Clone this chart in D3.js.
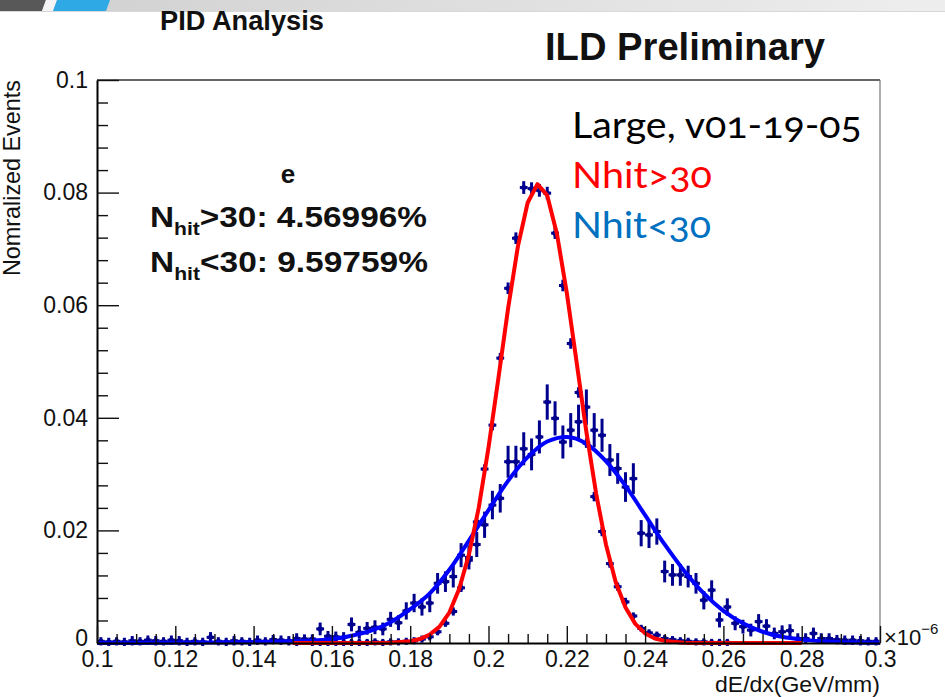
<!DOCTYPE html>
<html><head><meta charset="utf-8">
<script src="https://cdn.jsdelivr.net/npm/d3@7"></script>
<style>html,body{margin:0;padding:0;background:#fff;} svg{display:block;}</style>
</head><body>
<svg id="c" width="945" height="697"></svg>
<script>
// ---------------- data ----------------
const binLow = 0.1, binWidth = 0.002, nBins = 100;
// Nhit>30 histogram (normalised), bins 0.101 ... 0.299
const nhitHigh = [
 0,0,0,0,0,0,0,0,0,0,
 0,0,0,0,0,0,0,0,0,0,
 0,0,0,0,0,0.0001,0,0.0001,0.0001,0.0001,
 0.0001,0.0001,0.0001,0.0001,0.0001,0.0002,0.0001,0.0002,0.0002,0.0003,
 0.0004,0.0007,0.0011,0.0020,0.0035,0.0056,0.0098,0.0147,0.0215,0.0309,
 0.0387,0.0506,0.0630,0.0719,0.0809,0.0807,0.0804,0.0799,0.0728,0.0635,
 0.0532,0.0445,0.0355,0.0260,0.0198,0.0141,0.0100,0.0073,0.0048,0.0026,
 0.0018,0.0014,0.0008,0.0006,0.0004,0.0003,0.0002,0.0002,0.0001,0.0001,
 0.0001,0,0,0,0,0,0,0,0,0,
 0,0,0,0,0,0,0,0,0,0];
const nhitHighErr = [
 0,0,0,0,0,0,0,0,0,0,
 0,0,0,0,0,0,0,0,0,0,
 0,0,0,0,0,0.0001,0,0.0001,0.0001,0.0001,
 0.0001,0.0001,0.0001,0.0001,0.0001,0.0001,0.0001,0.0001,0.0001,0.0001,
 0.0001,0.0001,0.0001,0.0001,0.0001,0.0002,0.0002,0.0002,0.0003,0.0003,
 0.0004,0.0004,0.0005,0.0005,0.0006,0.0006,0.0006,0.0006,0.0005,0.0005,
 0.0004,0.0004,0.0003,0.0003,0.0003,0.0002,0.0002,0.0002,0.0001,0.0001,
 0.0001,0.0001,0.0001,0.0001,0.0001,0.0001,0.0001,0.0001,0.0001,0.0001,
 0.0001,0,0,0,0,0,0,0,0,0,
 0,0,0,0,0,0,0,0,0,0];
// Nhit<30 histogram (normalised)
const nhitLow = [
 0.0003,0.0002,0.0003,0.0002,0.0004,0.0003,0.0005,0.0004,0.0003,0.0005,
 0.0004,0.0002,0.0003,0.0002,0.0010,0.0003,0.0002,0.0004,0.0003,0.0002,
 0.0005,0.0003,0.0006,0.0005,0.0004,0.0008,0.0007,0.0007,0.0025,0.0012,
 0.0011,0.0010,0.0033,0.0019,0.0026,0.0028,0.0025,0.0042,0.0036,0.0057,
 0.0071,0.0064,0.0071,0.0106,0.0109,0.0118,0.0156,0.0152,0.0175,0.0210,
 0.0245,0.0257,0.0322,0.0322,0.0345,0.0335,0.0366,0.0428,0.0399,0.0357,
 0.0378,0.0393,0.0419,0.0378,0.0369,0.0325,0.0310,0.0277,0.0292,0.0195,
 0.0192,0.0198,0.0127,0.0121,0.0121,0.0118,0.0106,0.0076,0.0094,0.0041,
 0.0064,0.0035,0.0029,0.0023,0.0038,0.0030,0.0017,0.0020,0.0022,0.0008,
 0.0008,0.0017,0.0008,0.0008,0.0006,0.0005,0.0005,0.0004,0.0003,0.0003];
const nhitLowErr = [
 0.0002,0.0002,0.0002,0.0002,0.0003,0.0002,0.0003,0.0003,0.0002,0.0003,
 0.0003,0.0002,0.0002,0.0002,0.0004,0.0002,0.0002,0.0003,0.0002,0.0002,
 0.0003,0.0002,0.0003,0.0003,0.0003,0.0004,0.0003,0.0003,0.0006,0.0004,
 0.0004,0.0004,0.0007,0.0006,0.0006,0.0007,0.0006,0.0008,0.0008,0.0010,
 0.0011,0.0010,0.0011,0.0013,0.0013,0.0014,0.0016,0.0016,0.0017,0.0018,
 0.0020,0.0020,0.0023,0.0023,0.0024,0.0023,0.0024,0.0026,0.0025,0.0024,
 0.0025,0.0025,0.0026,0.0025,0.0024,0.0023,0.0022,0.0021,0.0022,0.0018,
 0.0018,0.0018,0.0014,0.0014,0.0014,0.0014,0.0013,0.0011,0.0012,0.0008,
 0.0010,0.0007,0.0007,0.0006,0.0008,0.0007,0.0005,0.0006,0.0006,0.0004,
 0.0004,0.0005,0.0004,0.0004,0.0003,0.0003,0.0003,0.0003,0.0002,0.0002];
// Gaussian fit curves
const fitHighX = [0.150,0.160,0.170,0.175,0.180,0.1825,0.185,0.1875,0.190,0.1925,0.195,0.1975,0.200,0.2025,0.205,0.2075,0.210,0.2125,0.215,0.2175,0.220,0.2225,0.225,0.2275,0.230,0.2325,0.235,0.2375,0.240,0.2425,0.245,0.250,0.255,0.265,0.280];
const fitHighY = [0,0,0.00001,0.00005,0.0003,0.0007,0.0015,0.0029,0.0054,0.0096,0.0157,0.0240,0.0347,0.0469,0.0594,0.0704,0.0782,0.0815,0.0795,0.0726,0.0622,0.0499,0.0375,0.0265,0.0175,0.0108,0.0063,0.0034,0.0017,0.0008,0.00037,0.00006,0.00001,0,0];
const fitLowX = [0.100,0.110,0.120,0.130,0.140,0.145,0.150,0.155,0.160,0.165,0.170,0.175,0.180,0.185,0.190,0.195,0.200,0.205,0.210,0.215,0.220,0.225,0.230,0.235,0.240,0.245,0.250,0.255,0.260,0.265,0.270,0.275,0.280,0.285,0.290,0.295,0.300];
const fitLowY = [0.00001,0.00002,0.00004,0.00008,0.00015,0.0002,0.0003,0.0004,0.0007,0.0013,0.0022,0.0037,0.0060,0.0088,0.0130,0.0182,0.0236,0.0288,0.0330,0.0358,0.0366,0.0354,0.0323,0.0279,0.0227,0.0175,0.0128,0.0088,0.0057,0.0035,0.0020,0.0011,0.0006,0.0003,0.00013,0.00006,0.00002];
// axes
const xTicks = [0.1,0.12,0.14,0.16,0.18,0.2,0.22,0.24,0.26,0.28,0.3];
const xTickLabels = ["0.1","0.12","0.14","0.16","0.18","0.2","0.22","0.24","0.26","0.28","0.3"];
const yTicks = [0,0.02,0.04,0.06,0.08,0.1];
const yTickLabels = ["0","0.02","0.04","0.06","0.08","0.1"];

// ---------------- drawing ----------------
const svg = d3.select("#c");
const W = 945, H = 697;
const X0 = 97, X1 = 880, Y0 = 643, Y1 = 80;
const x = d3.scaleLinear().domain([0.1,0.3]).range([X0,X1]);
const y = d3.scaleLinear().domain([0,0.1]).range([Y0,Y1]);
const ROOTFONT = "'Liberation Sans', Arial, Helvetica, sans-serif";

// header strip
const defs = svg.append("defs");
const lg = defs.append("linearGradient").attr("id","hdr").attr("x1","0").attr("x2","1").attr("y1","0").attr("y2","0");
lg.append("stop").attr("offset","0").attr("stop-color","#cfcfcf");
lg.append("stop").attr("offset","1").attr("stop-color","#eeeeee");
svg.append("rect").attr("x",0).attr("y",0).attr("width",W).attr("height",11).attr("fill","url(#hdr)");
svg.append("polygon").attr("points","0,0 46,0 42,11 0,11").attr("fill","#585858");
svg.append("polygon").attr("points","46,0 57,0 53,11 42,11").attr("fill","#f4f4f4");
svg.append("polygon").attr("points","57,0 110,0 106,11 53,11").attr("fill","#2ea9e6");
svg.append("line").attr("x1",0).attr("x2",W).attr("y1",11.5).attr("y2",11.5).attr("stroke","#d8d8d8").attr("stroke-width",1);

// helper: stretch text horizontally to a target width, keeping its left edge
function fitW(sel, w){
  const bb = sel.node().getBBox();
  const s = w / bb.width;
  sel.attr("transform", `translate(${bb.x},0) scale(${s},1) translate(${-bb.x},0)`);
}

// histograms (error-bar style)
function drawHist(vals, errs, cls){
  const pts = vals.map((v,i)=>({c: binLow + binWidth*(i+0.5), v, e: errs[i]})).filter(d=>d.v>0);
  const g = svg.append("g").attr("class",cls).attr("stroke","#00008f").attr("fill","#00008f");
  g.selectAll("line.h").data(pts).join("line").attr("class","h")
    .attr("x1",d=>x(d.c-binWidth/2)).attr("x2",d=>x(d.c+binWidth/2))
    .attr("y1",d=>y(d.v)).attr("y2",d=>y(d.v)).attr("stroke-width",3);
  g.selectAll("line.v").data(pts).join("line").attr("class","v")
    .attr("x1",d=>x(d.c)).attr("x2",d=>x(d.c))
    .attr("y1",d=>y(d.v-d.e)+3).attr("y2",d=>y(d.v+d.e)-3).attr("stroke-width",3);
  g.selectAll("circle").data(pts).join("circle")
    .attr("cx",d=>x(d.c)).attr("cy",d=>y(d.v)).attr("r",2.6).attr("stroke","none");
}
drawHist(nhitLow, nhitLowErr, "low");
drawHist(nhitHigh, nhitHighErr, "high");

// fit curves
const lineLow = d3.line().x(d=>x(d[0])).y(d=>y(d[1])).curve(d3.curveMonotoneX);
const lineHigh = d3.line().x(d=>x(d[0])).y(d=>y(d[1]));
svg.append("path").attr("d", lineLow(fitLowX.map((v,i)=>[v,fitLowY[i]])))
  .attr("fill","none").attr("stroke","#0000ff").attr("stroke-width",4).attr("stroke-linejoin","round");
svg.append("path").attr("d", lineHigh(fitHighX.map((v,i)=>[v,fitHighY[i]])))
  .attr("fill","none").attr("stroke","#ff0000").attr("stroke-width",4).attr("stroke-linejoin","round");

// frame (top / right)
svg.append("line").attr("x1",X0).attr("x2",X1).attr("y1",Y1).attr("y2",Y1).attr("stroke","#333").attr("stroke-width",1.6);
svg.append("line").attr("x1",X1).attr("x2",X1).attr("y1",Y1).attr("y2",Y0).attr("stroke","#777").attr("stroke-width",1.2);

// axes
const yMinor = d3.range(0,0.1001,0.004).filter(v=>Math.abs(v/0.02-Math.round(v/0.02))>1e-6);
const xMinor = d3.range(0.1,0.3001,0.005).filter(v=>Math.abs(v/0.02-Math.round(v/0.02))>1e-6);
const gyMinor = svg.append("g").attr("transform",`translate(${X0},0)`)
  .call(d3.axisLeft(y).tickValues(yMinor).tickSize(-11).tickSizeOuter(0).tickFormat(""));
gyMinor.select(".domain").remove();
const gxMinor = svg.append("g").attr("transform",`translate(0,${Y0})`)
  .call(d3.axisBottom(x).tickValues(xMinor).tickSize(-9).tickSizeOuter(0).tickFormat(""));
gxMinor.select(".domain").remove();
const gy = svg.append("g").attr("transform",`translate(${X0},0)`)
  .call(d3.axisLeft(y).tickValues(yTicks).tickFormat((d,i)=>yTickLabels[i]).tickSize(-22).tickSizeOuter(0).tickPadding(9));
const gx = svg.append("g").attr("transform",`translate(0,${Y0})`)
  .call(d3.axisBottom(x).tickValues(xTicks).tickFormat((d,i)=>xTickLabels[i]).tickSize(-17).tickSizeOuter(0).tickPadding(8));
[gy,gx,gyMinor,gxMinor].forEach(g=>{
  g.selectAll(".tick line").attr("stroke","#111").attr("stroke-width",1.4);
  g.select(".domain").attr("stroke","#000").attr("stroke-width",2);
  g.selectAll("text").attr("font-family",ROOTFONT).attr("font-size",23).attr("fill","#111");
});
// the y "0" label sits just above the x "0.1" label, as in ROOT
gy.selectAll(".tick text").filter(d=>d===0).attr("dy","0.1em");

// axis titles
const yt = svg.append("g").attr("transform","translate(20,276) rotate(-90)");
const ytt = yt.append("text").attr("x",0).attr("y",0).attr("font-family",ROOTFONT).attr("font-size",23).attr("fill","#111").text("Nomralized Events");
fitW(ytt,196);
const xt = svg.append("text").attr("x",715).attr("y",692).attr("font-family",ROOTFONT).attr("font-size",22).attr("fill","#111").text("dE/dx(GeV/mm)");
fitW(xt,165);
const ex = svg.append("text").attr("x",884).attr("y",645).attr("font-family",ROOTFONT).attr("font-size",22).attr("fill","#111");
ex.append("tspan").text("×10");
ex.append("tspan").attr("dy",-11).attr("font-size",15).text("−6");

// titles
const t1 = svg.append("text").attr("x",160).attr("y",30).attr("font-family",ROOTFONT).attr("font-weight","bold").attr("font-size",27).attr("fill","#111").text("PID Analysis");
fitW(t1,164);
const t2 = svg.append("text").attr("x",545).attr("y",60).attr("font-family",ROOTFONT).attr("font-weight","bold").attr("font-size",38).attr("fill","#111").text("ILD Preliminary");
fitW(t2,280);

// annotation
svg.append("text").attr("x",288).attr("y",183).attr("text-anchor","middle").attr("font-family",ROOTFONT).attr("font-weight","bold").attr("font-size",26).attr("fill","#111").text("e");
function nhitLine(yb, rest, w){
  const t = svg.append("text").attr("x",150).attr("y",yb).attr("font-family",ROOTFONT).attr("font-weight","bold").attr("font-size",30).attr("fill","#111");
  t.append("tspan").text("N");
  t.append("tspan").attr("font-size",19).attr("dy",8).text("hit");
  t.append("tspan").attr("dy",-8).text(rest);
  fitW(t,w);
}
nhitLine(227, ">30: 4.56996%", 277);
nhitLine(272, "<30: 9.59759%", 278);

// legend block at right
const LFONT = "Lato, 'Open Sans', 'Noto Sans', sans-serif";
const l1 = svg.append("text").attr("x",572).attr("y",138).attr("font-family",LFONT).attr("font-size",37).attr("fill","#000").style("font-variant-numeric","oldstyle-nums").text("Large, v01-19-05");
fitW(l1,290);
const l2 = svg.append("text").attr("x",572).attr("y",188).attr("font-family",LFONT).attr("font-size",37).attr("fill","#ff0000").style("font-variant-numeric","oldstyle-nums").text("Nhit>30");
fitW(l2,140);
const l3 = svg.append("text").attr("x",572).attr("y",238).attr("font-family",LFONT).attr("font-size",37).attr("fill","#0070c0").style("font-variant-numeric","oldstyle-nums").text("Nhit<30");
fitW(l3,139);
</script>
</body></html>
